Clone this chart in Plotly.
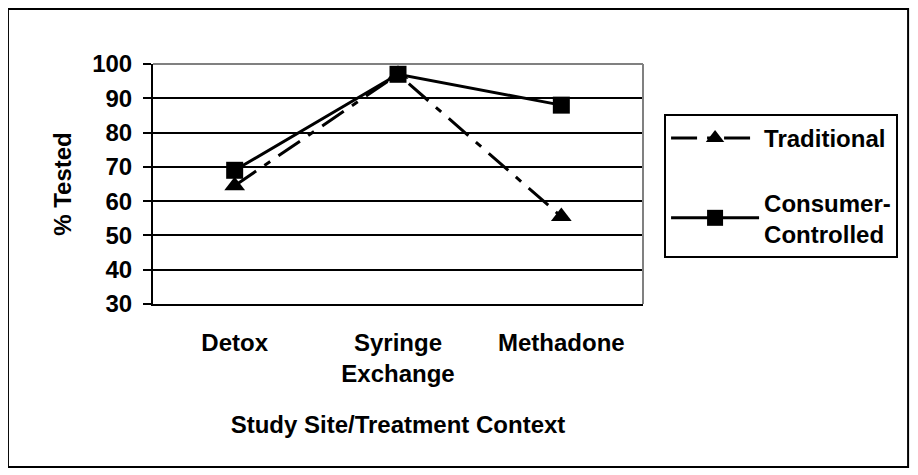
import plotly.graph_objects as go

categories = ["Detox", "Syringe<br>Exchange", "Methadone"]
traditional = [64.5, 97, 55.5]
consumer = [69, 97, 88]
y_ticks = [30, 40, 50, 60, 70, 80, 90, 100]

FONT = "Arial, Liberation Sans, sans-serif"
FS = 24
bold = dict(family=FONT, size=FS, color="black", weight="bold")

fig = go.Figure()
fig.add_trace(go.Scatter(
    x=categories, y=traditional, name="Traditional", mode="lines+markers",
    line=dict(color="black", width=3, dash="26px,10px,7px,10px"),
    marker=dict(symbol="triangle-up", size=18, color="black"),
    legendgroup="a",
))
fig.add_trace(go.Scatter(
    x=categories, y=consumer, name="Consumer-<br>Controlled", mode="lines+markers",
    line=dict(color="black", width=3),
    marker=dict(symbol="square", size=17, color="black"),
    legendgroup="b",
))

fig.update_layout(
    width=910, height=467,
    margin=dict(l=145, r=275, t=56, b=171),
    paper_bgcolor="white", plot_bgcolor="white",
    font=bold,
    showlegend=True,
    legend=dict(
        x=1.043, y=0.792, xanchor="left", yanchor="top",
        bordercolor="black", borderwidth=2,
        font=bold,
        tracegroupgap=30, itemwidth=88,
    ),
    xaxis=dict(
        type="category", range=[-0.5, 2.5], showgrid=False,
        showline=True, linecolor="black", linewidth=2,
        ticks="outside", ticklen=16, tickcolor="rgba(0,0,0,0)",
        tickfont=bold,
        title=dict(text="Study Site/Treatment Context", font=bold, standoff=30),
        zeroline=False,
    ),
    yaxis=dict(
        range=[30, 100], tickvals=y_ticks, showgrid=True,
        gridcolor="black", gridwidth=2,
        showline=True, linecolor="black", linewidth=2,
        ticks="outside", ticklen=8, tickwidth=2, tickcolor="black",
        ticklabelstandoff=6,
        tickfont=bold,
        title=dict(text="% Tested", font=bold, standoff=14),
        zeroline=False,
    ),
    shapes=[
        dict(type="line", xref="paper", yref="paper", x0=0, x1=1, y0=1, y1=1,
             line=dict(color="#808080", width=2), layer="above"),
        dict(type="line", xref="paper", yref="paper", x0=1, x1=1, y0=0, y1=1,
             line=dict(color="#808080", width=2), layer="above"),
        dict(type="rect", xref="paper", yref="paper",
             x0=-0.296, x1=1.541, y0=-0.679, y1=1.229,
             line=dict(color="black", width=2), fillcolor="rgba(0,0,0,0)"),
    ],
)

fig.write_html("out.html")
